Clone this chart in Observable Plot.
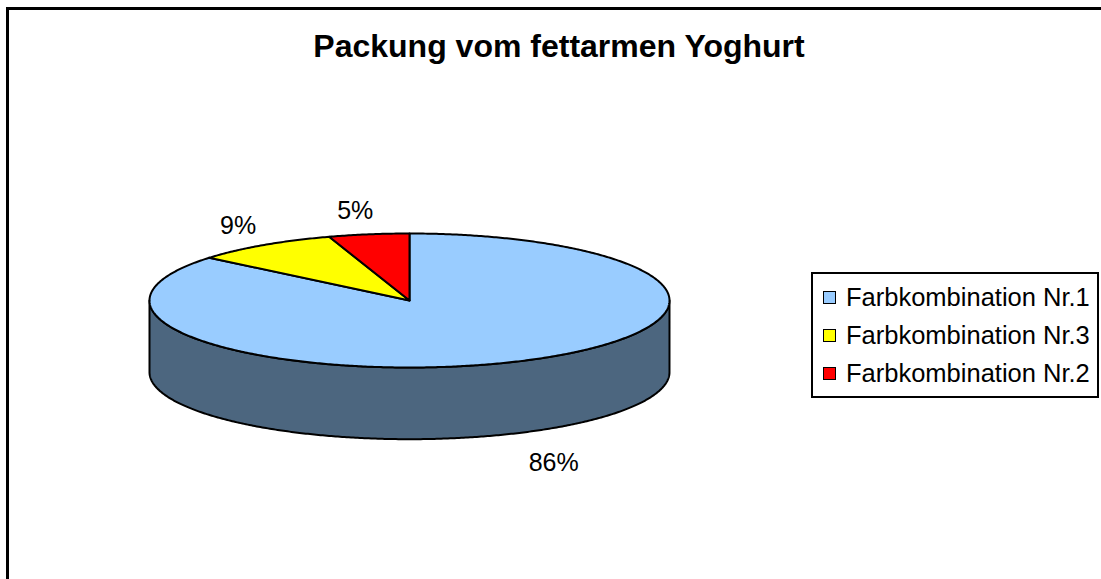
<!DOCTYPE html>
<html>
<head>
<meta charset="utf-8">
<script src="https://cdn.jsdelivr.net/npm/d3@7"></script>
<script src="https://cdn.jsdelivr.net/npm/@observablehq/plot@0.6"></script>
<style>
  html, body { margin: 0; padding: 0; background: #fff; overflow: hidden; }
  #wrap { position: relative; width: 1101px; height: 579px; font-family: Arial, "Liberation Sans", sans-serif; }
  #frame { position: absolute; left: 6px; top: 7px; width: 1110px; height: 590px; border: 3px solid #000; box-sizing: border-box; }
  #title { position: absolute; left: 0; width: 1118px; top: 29px; text-align: center; font-weight: bold; font-size: 32px; line-height: 34px; color: #000; }
  #chart { position: absolute; left: 0; top: 0; }
  #legend { position: absolute; left: 811px; top: 272px; width: 288px; height: 126px; border: 2px solid #000; box-sizing: border-box; background: #fff; }
  .row { position: absolute; left: 10px; height: 30px; display: flex; align-items: center; font-size: 25.5px; color: #000; white-space: nowrap; }
  .sw { width: 11px; height: 11px; border: 1.5px solid #000; margin-right: 10px; flex: none; }
</style>
</head>
<body>
<div id="wrap">
  <div id="chart"></div>
  <div id="frame"></div>
  <div id="title">Packung vom fettarmen Yoghurt</div>
  <div id="legend"></div>
</div>
<script>
const categories = ["Farbkombination Nr.1", "Farbkombination Nr.3", "Farbkombination Nr.2"];
const values = [86, 9, 5];
const colors = ["#99CCFF", "#FFFF00", "#FF0000"];
const sideColors = ["#4C667F", "#7F7F00", "#7F0000"];
const labels = ["86%", "9%", "5%"];

const depth = 1.07;   // side height in units of the ellipse's vertical radius
const step = Math.PI / 360;

const arcs = d3.pie().sort(null).value(d => d)(values);

function arcPoints(a0, a1, off) {
  const pts = [];
  const n = Math.max(2, Math.ceil((a1 - a0) / step));
  for (let i = 0; i <= n; i++) {
    const a = a0 + (a1 - a0) * i / n;
    pts.push([Math.sin(a), Math.cos(a) - off]);
  }
  return pts;
}

const sides = [];
const tops = [];
arcs.forEach((a, i) => {
  const s0 = Math.max(a.startAngle, Math.PI / 2);
  const s1 = Math.min(a.endAngle, 3 * Math.PI / 2);
  if (s1 > s0) {
    const up = arcPoints(s0, s1, 0);
    const down = arcPoints(s0, s1, depth).reverse();
    const ring = up.concat(down, [up[0]]);
    ring.forEach(([x, y]) => sides.push({x, y, key: "s" + i, fill: sideColors[i]}));
  }
  const ring = [[0, 0]].concat(arcPoints(a.startAngle, a.endAngle, 0), [[0, 0]]);
  ring.forEach(([x, y]) => tops.push({x, y, key: "t" + i, fill: colors[i]}));
});

// outside-end label placement
const labelData = arcs.map((a, i) => {
  const m = (a.startAngle + a.endAngle) / 2;
  const s = Math.sin(m), c = Math.cos(m);
  const lower = c < 0;
  return {
    x: 1.11 * s + 0.035 * Math.sign(s) + (lower ? 0.047 : 0),
    y: 1.35 * c - (lower ? depth + 0.14 : 0),
    text: labels[i]
  };
});

const plot = Plot.plot({
  width: 1101,
  height: 579,
  margin: 0,
  x: {domain: [-1, 1], range: [149, 669], axis: null},
  y: {domain: [-1, 1], range: [367, 233], axis: null},
  color: {type: "identity"},
  marks: [
    Plot.line(sides, {x: "x", y: "y", z: "key", fill: "fill", stroke: "#000", strokeWidth: 2, strokeLinejoin: "round", curve: "linear"}),
    Plot.line(tops, {x: "x", y: "y", z: "key", fill: "fill", stroke: "#000", strokeWidth: 2, strokeLinejoin: "round", curve: "linear"}),
    Plot.text(labelData, {x: "x", y: "y", text: "text", fontSize: 25, fontFamily: "Arial, 'Liberation Sans', sans-serif", fill: "#000"})
  ]
});
document.getElementById("chart").appendChild(plot);

const legend = document.getElementById("legend");
categories.forEach((c, i) => {
  const row = document.createElement("div");
  row.className = "row";
  row.style.top = (8 + i * 38) + "px";
  const sw = document.createElement("div");
  sw.className = "sw";
  sw.style.background = colors[i];
  row.appendChild(sw);
  const t = document.createElement("span");
  t.textContent = c;
  row.appendChild(t);
  legend.appendChild(row);
});
</script>
</body>
</html>
